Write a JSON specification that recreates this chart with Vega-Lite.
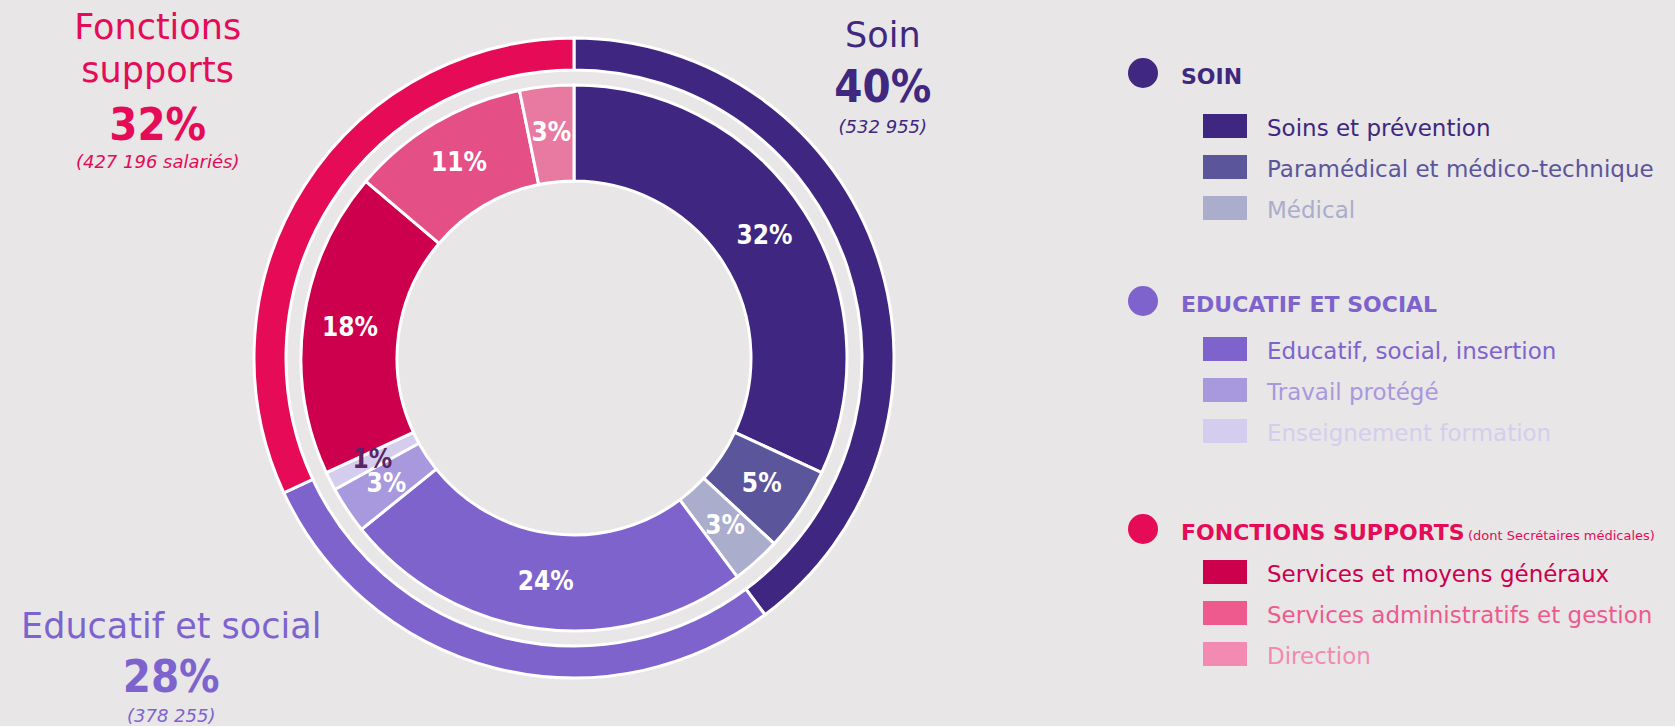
{
  "$schema": "https://vega.github.io/schema/vega-lite/v6.json",
  "background": "#e8e6e7",
  "padding": 0,
  "spacing": 0,
  "bounds": "flush",
  "config": {"view": {"stroke": null}, "font": "DejaVu Sans"},
  "datasets": {
    "groups": [
      {"name": "Soin", "share": 39.82, "pctLabel": "40%", "count": "(532 955)", "i": 1, "header": "SOIN", "level": "header", "note": ""},
      {"name": "Educatif et social", "share": 28.26, "pctLabel": "28%", "count": "(378 255)", "i": 2, "header": "EDUCATIF ET SOCIAL", "level": "header", "note": ""},
      {"name": "Fonctions supports", "share": 31.92, "pctLabel": "32%", "count": "(427 196 salariés)", "i": 3, "header": "FONCTIONS SUPPORTS", "level": "header", "note": "(dont Secrétaires médicales)"}
    ],
    "cats": [
      {"cat": "Soins et prévention", "share": 31.9, "label": "32%", "i": 1, "group": "SOIN", "rank": 1, "level": "item"},
      {"cat": "Paramédical et médico-technique", "share": 5.0, "label": "5%", "i": 2, "group": "SOIN", "rank": 2, "level": "item"},
      {"cat": "Médical", "share": 2.9, "label": "3%", "i": 3, "group": "SOIN", "rank": 3, "level": "item"},
      {"cat": "Educatif, social, insertion", "share": 24.4, "label": "24%", "i": 4, "group": "EDUCATIF ET SOCIAL", "rank": 1, "level": "item"},
      {"cat": "Travail protégé", "share": 2.8, "label": "3%", "i": 5, "group": "EDUCATIF ET SOCIAL", "rank": 2, "level": "item"},
      {"cat": "Enseignement formation", "share": 1.1, "label": "1%", "i": 6, "group": "EDUCATIF ET SOCIAL", "rank": 3, "level": "item"},
      {"cat": "Services et moyens généraux", "share": 18.1, "label": "18%", "i": 7, "group": "FONCTIONS SUPPORTS", "rank": 1, "level": "item"},
      {"cat": "Services administratifs et gestion", "share": 10.6, "label": "11%", "i": 8, "group": "FONCTIONS SUPPORTS", "rank": 2, "level": "item"},
      {"cat": "Direction", "share": 3.2, "label": "3%", "i": 9, "group": "FONCTIONS SUPPORTS", "rank": 3, "level": "item"}
    ]
  },
  "resolve": {"scale": {"color": "independent", "x": "independent", "y": "independent"}},
  "hconcat": [
    {
      "width": 1148,
      "height": 716,
      "data": {"name": "groups"},
      "layer": [
        {
          "mark": {"type": "arc", "radius": 320, "radius2": 288, "stroke": "#ffffff", "strokeWidth": 3},
          "encoding": {
            "theta": {"field": "share", "type": "quantitative", "stack": true},
            "order": {"field": "i", "type": "quantitative"},
            "color": {"field": "name", "type": "nominal", "legend": null,
              "scale": {"domain": ["Soin", "Educatif et social", "Fonctions supports", "Soins et prévention", "Paramédical et médico-technique", "Médical", "Educatif, social, insertion", "Travail protégé", "Enseignement formation", "Services et moyens généraux", "Services administratifs et gestion", "Direction"],
                "range": ["#3f2680", "#7e63cd", "#e50b57", "#3f2680", "#5b559b", "#aaadcb", "#7e63cd", "#a898dd", "#d5cdee", "#cc004d", "#e44f86", "#e87aa1"]}}
          }
        },
        {
          "data": {"name": "cats"},
          "mark": {"type": "arc", "radius": 273, "radius2": 177, "stroke": "#ffffff", "strokeWidth": 3},
          "encoding": {
            "theta": {"field": "share", "type": "quantitative", "stack": true},
            "order": {"field": "i", "type": "quantitative"},
            "color": {"field": "cat", "type": "nominal", "legend": null,
              "scale": {"domain": ["Soin", "Educatif et social", "Fonctions supports", "Soins et prévention", "Paramédical et médico-technique", "Médical", "Educatif, social, insertion", "Travail protégé", "Enseignement formation", "Services et moyens généraux", "Services administratifs et gestion", "Direction"],
                "range": ["#3f2680", "#7e63cd", "#e50b57", "#3f2680", "#5b559b", "#aaadcb", "#7e63cd", "#a898dd", "#d5cdee", "#cc004d", "#e44f86", "#e87aa1"]}}
          }
        },
        {
          "data": {"name": "cats"},
          "mark": {"type": "text", "radius": 226, "font": "DejaVu Sans Condensed", "fontWeight": "bold", "fontSize": 26, "align": "center", "baseline": "middle"},
          "encoding": {
            "theta": {"field": "share", "type": "quantitative", "stack": true},
            "order": {"field": "i", "type": "quantitative"},
            "text": {"field": "label"},
            "color": {"condition": {"test": "datum.i === 6", "value": "#5b2466"}, "value": "#ffffff"}
          }
        },
        {
          "transform": [{"filter": "datum.i === 1"}],
          "mark": {"type": "text", "radius": 401, "dy": -55, "fontSize": 35, "align": "center", "baseline": "alphabetic", "color": "#40277f"},
          "encoding": {"theta": {"datum": 13.99, "type": "quantitative"}, "text": {"field": "name"}}
        },
        {
          "transform": [{"filter": "datum.i === 1"}],
          "mark": {"type": "text", "radius": 401, "font": "DejaVu Sans Condensed", "fontWeight": "bold", "fontSize": 45, "align": "center", "baseline": "alphabetic", "color": "#40277f"},
          "encoding": {"theta": {"datum": 13.99, "type": "quantitative"}, "text": {"field": "pctLabel"}}
        },
        {
          "transform": [{"filter": "datum.i === 1"}],
          "mark": {"type": "text", "radius": 401, "dy": 31, "fontSize": 18, "fontStyle": "italic", "align": "center", "baseline": "alphabetic", "color": "#40277f"},
          "encoding": {"theta": {"datum": 13.99, "type": "quantitative"}, "text": {"field": "count"}}
        },
        {
          "transform": [{"filter": "datum.i === 2"}],
          "mark": {"type": "text", "radius": 523, "dy": -54, "fontSize": 35, "align": "center", "baseline": "alphabetic", "color": "#7d63ce"},
          "encoding": {"theta": {"datum": 63.99, "type": "quantitative"}, "text": {"field": "name"}}
        },
        {
          "transform": [{"filter": "datum.i === 2"}],
          "mark": {"type": "text", "radius": 523, "font": "DejaVu Sans Condensed", "fontWeight": "bold", "fontSize": 45, "align": "center", "baseline": "alphabetic", "color": "#7d63ce"},
          "encoding": {"theta": {"datum": 63.99, "type": "quantitative"}, "text": {"field": "pctLabel"}}
        },
        {
          "transform": [{"filter": "datum.i === 2"}],
          "mark": {"type": "text", "radius": 523, "dy": 30, "fontSize": 18, "fontStyle": "italic", "align": "center", "baseline": "alphabetic", "color": "#7d63ce"},
          "encoding": {"theta": {"datum": 63.99, "type": "quantitative"}, "text": {"field": "count"}}
        },
        {
          "transform": [{"filter": "datum.i === 3"}],
          "mark": {"type": "text", "radius": 470, "dy": -101, "fontSize": 35, "lineBreak": " ", "lineHeight": 43, "align": "center", "baseline": "alphabetic", "color": "#e50b57"},
          "encoding": {"theta": {"datum": 82.68, "type": "quantitative"}, "text": {"field": "name"}}
        },
        {
          "transform": [{"filter": "datum.i === 3"}],
          "mark": {"type": "text", "radius": 470, "font": "DejaVu Sans Condensed", "fontWeight": "bold", "fontSize": 45, "align": "center", "baseline": "alphabetic", "color": "#e50b57"},
          "encoding": {"theta": {"datum": 82.68, "type": "quantitative"}, "text": {"field": "pctLabel"}}
        },
        {
          "transform": [{"filter": "datum.i === 3"}],
          "mark": {"type": "text", "radius": 470, "dy": 28, "fontSize": 18, "fontStyle": "italic", "align": "center", "baseline": "alphabetic", "color": "#e50b57"},
          "encoding": {"theta": {"datum": 82.68, "type": "quantitative"}, "text": {"field": "count"}}
        }
      ]
    },
    {
      "width": 527,
      "height": 716,
      "resolve": {"scale": {"y": "independent"}},
      "layer": [
        {
          "data": {"name": "groups"},
          "mark": {"type": "point", "shape": "circle", "filled": true, "size": 900, "opacity": 1},
          "encoding": {
            "x": {"field": "level", "type": "nominal", "axis": null, "scale": {"type": "point", "domain": ["header", "item"], "range": [-5, 77], "padding": 0}},
            "y": {"field": "header", "type": "nominal", "axis": null, "scale": {"type": "point", "domain": ["SOIN", "EDUCATIF ET SOCIAL", "FONCTIONS SUPPORTS"], "range": [73, 529], "padding": 0}},
            "color": {"field": "header", "type": "nominal", "legend": null,
              "scale": {"domain": ["SOIN", "EDUCATIF ET SOCIAL", "FONCTIONS SUPPORTS", "Soins et prévention", "Paramédical et médico-technique", "Médical", "Educatif, social, insertion", "Travail protégé", "Enseignement formation", "Services et moyens généraux", "Services administratifs et gestion", "Direction"],
                "range": ["#40277f", "#7e63cd", "#e50b57", "#3f2680", "#5b559b", "#aaadcb", "#7e63cd", "#a898dd", "#d5cdee", "#cc004d", "#ee5a8d", "#f28ab1"]}}
          }
        },
        {
          "data": {"name": "groups"},
          "mark": {"type": "text", "align": "left", "baseline": "alphabetic", "dx": 38, "dy": 11, "fontSize": 22, "fontWeight": "bold"},
          "encoding": {
            "x": {"field": "level", "type": "nominal", "axis": null, "scale": {"type": "point", "domain": ["header", "item"], "range": [-5, 77], "padding": 0}},
            "y": {"field": "header", "type": "nominal", "axis": null, "scale": {"type": "point", "domain": ["SOIN", "EDUCATIF ET SOCIAL", "FONCTIONS SUPPORTS"], "range": [73, 529], "padding": 0}},
            "text": {"field": "header"},
            "color": {"field": "header", "type": "nominal", "legend": null,
              "scale": {"domain": ["SOIN", "EDUCATIF ET SOCIAL", "FONCTIONS SUPPORTS", "Soins et prévention", "Paramédical et médico-technique", "Médical", "Educatif, social, insertion", "Travail protégé", "Enseignement formation", "Services et moyens généraux", "Services administratifs et gestion", "Direction"],
                "range": ["#40277f", "#7e63cd", "#e50b57", "#3f2680", "#5b559b", "#aaadcb", "#7e63cd", "#a898dd", "#d5cdee", "#cc004d", "#ee5a8d", "#f28ab1"]}}
          }
        },
        {
          "data": {"name": "groups"},
          "mark": {"type": "text", "align": "left", "baseline": "alphabetic", "dx": 325, "dy": 11, "fontSize": 13, "color": "#e50b57"},
          "encoding": {
            "x": {"field": "level", "type": "nominal", "axis": null, "scale": {"type": "point", "domain": ["header", "item"], "range": [-5, 77], "padding": 0}},
            "y": {"field": "header", "type": "nominal", "axis": null, "scale": {"type": "point", "domain": ["SOIN", "EDUCATIF ET SOCIAL", "FONCTIONS SUPPORTS"], "range": [73, 529], "padding": 0}},
            "text": {"field": "note"}
          }
        },
        {
          "data": {"name": "cats"},
          "mark": {"type": "point", "shape": "M-1,-0.545H1V0.545H-1Z", "filled": true, "size": 1936, "opacity": 1},
          "encoding": {
            "x": {"field": "level", "type": "nominal", "axis": null, "scale": {"type": "point", "domain": ["header", "item"], "range": [-5, 77], "padding": 0}},
            "y": {"field": "group", "type": "nominal", "axis": null, "scale": {"type": "point", "domain": ["SOIN", "EDUCATIF ET SOCIAL", "FONCTIONS SUPPORTS"], "range": [126, 572], "padding": 0}},
            "yOffset": {"field": "rank", "type": "quantitative", "scale": {"domain": [1, 3], "range": [0, 82]}},
            "color": {"field": "cat", "type": "nominal", "legend": null,
              "scale": {"domain": ["SOIN", "EDUCATIF ET SOCIAL", "FONCTIONS SUPPORTS", "Soins et prévention", "Paramédical et médico-technique", "Médical", "Educatif, social, insertion", "Travail protégé", "Enseignement formation", "Services et moyens généraux", "Services administratifs et gestion", "Direction"],
                "range": ["#40277f", "#7e63cd", "#e50b57", "#3f2680", "#5b559b", "#aaadcb", "#7e63cd", "#a898dd", "#d5cdee", "#cc004d", "#ee5a8d", "#f28ab1"]}}
          }
        },
        {
          "data": {"name": "cats"},
          "mark": {"type": "text", "align": "left", "baseline": "alphabetic", "dx": 42, "dy": 10, "fontSize": 23},
          "encoding": {
            "x": {"field": "level", "type": "nominal", "axis": null, "scale": {"type": "point", "domain": ["header", "item"], "range": [-5, 77], "padding": 0}},
            "y": {"field": "group", "type": "nominal", "axis": null, "scale": {"type": "point", "domain": ["SOIN", "EDUCATIF ET SOCIAL", "FONCTIONS SUPPORTS"], "range": [126, 572], "padding": 0}},
            "yOffset": {"field": "rank", "type": "quantitative", "scale": {"domain": [1, 3], "range": [0, 82]}},
            "text": {"field": "cat"},
            "color": {"field": "cat", "type": "nominal", "legend": null,
              "scale": {"domain": ["SOIN", "EDUCATIF ET SOCIAL", "FONCTIONS SUPPORTS", "Soins et prévention", "Paramédical et médico-technique", "Médical", "Educatif, social, insertion", "Travail protégé", "Enseignement formation", "Services et moyens généraux", "Services administratifs et gestion", "Direction"],
                "range": ["#40277f", "#7e63cd", "#e50b57", "#3f2680", "#5b559b", "#aaadcb", "#7e63cd", "#a898dd", "#d5cdee", "#cc004d", "#ee5a8d", "#f28ab1"]}}
          }
        }
      ]
    }
  ]
}
